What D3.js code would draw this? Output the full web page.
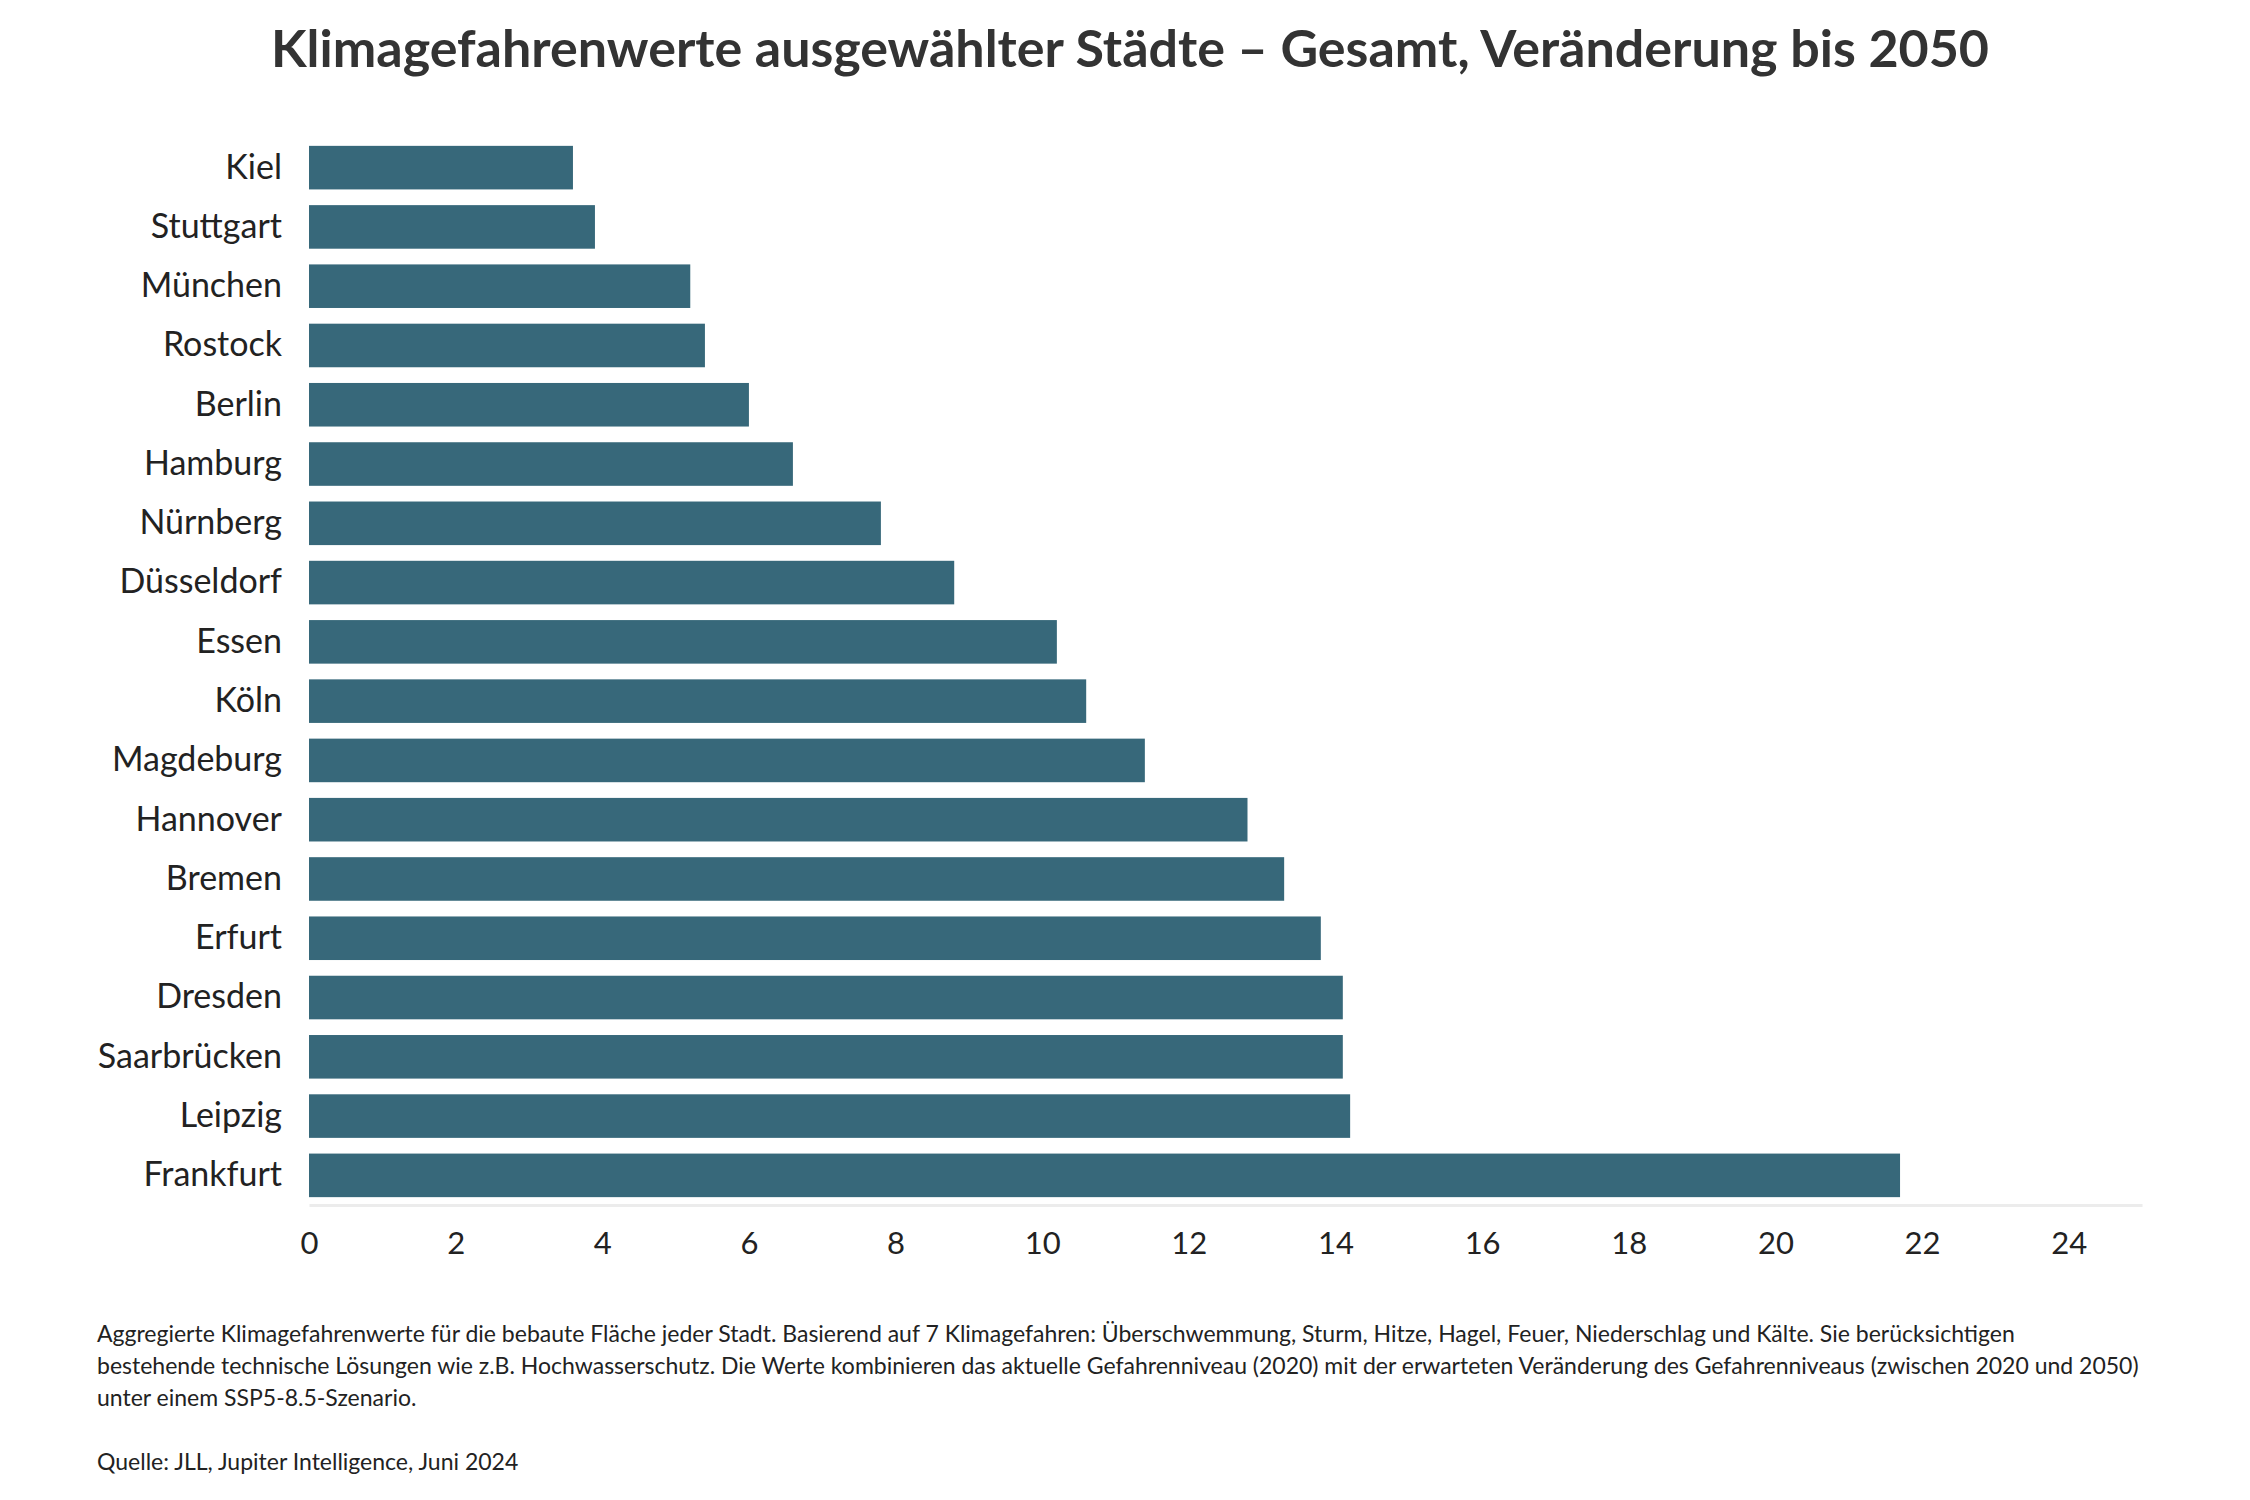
<!DOCTYPE html>
<html>
<head>
<meta charset="utf-8">
<script src="https://cdn.jsdelivr.net/npm/d3@7"></script>
<style>
  body { margin: 0; background: #fff; }
  svg text { font-family: Lato, "Noto Sans", sans-serif; }
</style>
</head>
<body>
<div id="chart"></div>
<script>
// data
const cities = ["Kiel", "Stuttgart", "München", "Rostock", "Berlin", "Hamburg", "Nürnberg",
  "Düsseldorf", "Essen", "Köln", "Magdeburg", "Hannover", "Bremen", "Erfurt", "Dresden",
  "Saarbrücken", "Leipzig", "Frankfurt"];
const values = [3.6, 3.9, 5.2, 5.4, 6.0, 6.6, 7.8, 8.8, 10.2, 10.6, 11.4, 12.8, 13.3, 13.8, 14.1, 14.1, 14.2, 21.7];
const xTicks = [0, 2, 4, 6, 8, 10, 12, 14, 16, 18, 20, 22, 24];

const title = "Klimagefahrenwerte ausgewählter Städte – Gesamt, Veränderung bis 2050";
const notes = [
  "Aggregierte Klimagefahrenwerte für die bebaute Fläche jeder Stadt. Basierend auf 7 Klimagefahren: Überschwemmung, Sturm, Hitze, Hagel, Feuer, Niederschlag und Kälte. Sie berücksichtigen",
  "bestehende technische Lösungen wie z.B. Hochwasserschutz. Die Werte kombinieren das aktuelle Gefahrenniveau (2020) mit der erwarteten Veränderung des Gefahrenniveaus (zwischen 2020 und 2050)",
  "unter einem SSP5-8.5-Szenario."
];
const source = "Quelle: JLL, Jupiter Intelligence, Juni 2024";

const W = 2250, H = 1500;
const svg = d3.select("#chart").append("svg")
  .attr("width", W).attr("height", H);

const x = d3.scaleLinear().domain([0, 25]).range([309, 2142]);
const y = d3.scaleBand().domain(cities).range([138, 1205])
  .paddingInner(0.265).paddingOuter(0.1325);

svg.append("text")
  .attr("x", 1130).attr("y", 67)
  .attr("text-anchor", "middle")
  .attr("font-size", 52).attr("font-weight", 700)
  .attr("fill", "#333")
  .text(title);

svg.selectAll("rect.bar")
  .data(values)
  .enter()
  .append("rect")
  .attr("class", "bar")
  .attr("x", x(0))
  .attr("y", (d, i) => y(cities[i]))
  .attr("width", d => x(d) - x(0))
  .attr("height", y.bandwidth())
  .attr("fill", "#37687a");

// x axis: light baseline, numbers below
const xAxis = svg.append("g")
  .attr("transform", "translate(0,1205)")
  .call(d3.axisBottom(x).tickValues(xTicks).tickSize(0).tickPadding(27));
xAxis.select(".domain").attr("stroke", "#ececec").attr("stroke-width", 3);
xAxis.selectAll("text").attr("font-size", 31).attr("fill", "#222");

// city labels
const yAxis = svg.append("g")
  .attr("transform", "translate(309,0)")
  .call(d3.axisLeft(y).tickSize(0).tickPadding(27));
yAxis.select(".domain").remove();
yAxis.selectAll("text").attr("font-size", 34).attr("fill", "#222");

const foot = svg.append("g").attr("font-size", 23).attr("fill", "#222");
foot.selectAll("text.note")
  .data(notes)
  .enter()
  .append("text")
  .attr("class", "note")
  .attr("x", 97)
  .attr("y", (d, i) => 1342 + i * 32)
  .text(d => d);
foot.append("text")
  .attr("x", 97).attr("y", 1470)
  .text(source);
</script>
</body>
</html>
